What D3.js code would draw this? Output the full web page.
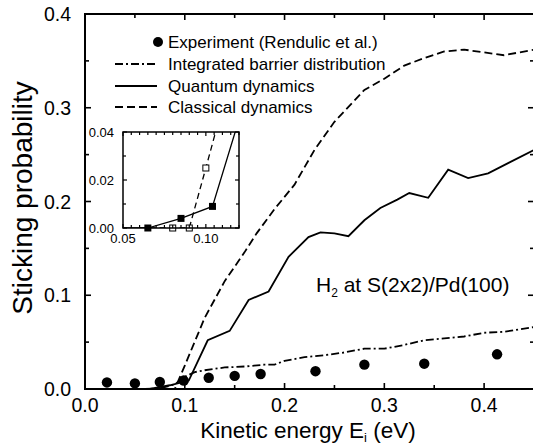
<!DOCTYPE html>
<html><head><meta charset="utf-8">
<script src="https://cdn.jsdelivr.net/npm/d3@7/dist/d3.min.js"></script>
<style>body{margin:0;background:#fff}svg{display:block;font-family:"Liberation Sans",Arial,sans-serif}</style>
</head><body><svg id="c" width="533" height="444"></svg>
<script>
// ---- data ----
const expX = [0.022,0.05,0.075,0.099,0.124,0.15,0.176,0.231,0.28,0.34,0.413];
const expY = [0.007,0.006,0.0075,0.009,0.012,0.014,0.016,0.019,0.026,0.027,0.037];
const intX = [0.06,0.07,0.08,0.09,0.1,0.11,0.12,0.14,0.16,0.18,0.19,0.2,0.22,0.24,0.26,0.28,0.3,0.32,0.34,0.36,0.38,0.4,0.42,0.45];
const intY = [0,0.0005,0.002,0.005,0.013,0.018,0.02,0.023,0.024,0.026,0.026,0.03,0.034,0.036,0.039,0.043,0.043,0.047,0.052,0.054,0.056,0.06,0.061,0.066];
const qdX = [0.045,0.065,0.085,0.104,0.123,0.145,0.164,0.184,0.204,0.224,0.236,0.25,0.264,0.28,0.296,0.313,0.325,0.344,0.364,0.384,0.404,0.426,0.45];
const qdY = [0,0,0.004,0.009,0.052,0.062,0.095,0.104,0.141,0.162,0.167,0.166,0.163,0.18,0.193,0.202,0.209,0.204,0.234,0.225,0.23,0.242,0.255];
const cdX = [0.06,0.08,0.09,0.1,0.12,0.14,0.16,0.172,0.19,0.21,0.23,0.25,0.28,0.3,0.32,0.34,0.36,0.38,0.40,0.42,0.45];
const cdY = [0,0,0.0,0.025,0.076,0.115,0.146,0.166,0.192,0.218,0.255,0.285,0.319,0.331,0.345,0.353,0.36,0.362,0.359,0.356,0.362];
// inset markers
const qdInsetX = [0.065,0.085,0.104];
const qdInsetY = [0,0.004,0.009];
const cdInsetX = [0.08,0.09,0.1];
const cdInsetY = [0,0,0.025];
const xTicks = [0,0.1,0.2,0.3,0.4];
const yTicks = [0,0.1,0.2,0.3,0.4];
const legendLabels = ["Experiment (Rendulic et al.)","Integrated barrier distribution","Quantum dynamics","Classical dynamics"];

const svg = d3.select("#c");
const L=85,R=534,T=14,B=389;
const x = d3.scaleLinear().domain([0,0.45]).range([L,R]);
const y = d3.scaleLinear().domain([0,0.4]).range([B,T]);
const clipId="mainclip";
svg.append("defs").append("clipPath").attr("id",clipId).append("rect").attr("x",L).attr("y",T).attr("width",R-L).attr("height",B-T);

const zip=(a,b)=>a.map((v,i)=>[v,b[i]]);
const line = d3.line().x(d=>x(d[0])).y(d=>y(d[1]));
const g = svg.append("g").attr("clip-path",`url(#${clipId})`);
g.append("path").attr("d",line(zip(intX,intY))).attr("fill","none").attr("stroke","#000").attr("stroke-width",1.8).attr("stroke-dasharray","8,3,2,3");
g.append("path").attr("d",line(zip(qdX,qdY))).attr("fill","none").attr("stroke","#000").attr("stroke-width",1.8);
g.append("path").attr("d",line(zip(cdX,cdY))).attr("fill","none").attr("stroke","#000").attr("stroke-width",1.8).attr("stroke-dasharray","8,4");
g.selectAll("circle.e").data(zip(expX,expY)).join("circle").attr("cx",d=>x(d[0])).attr("cy",d=>y(d[1])).attr("r",5.2).attr("fill","#000");

// axes
function axes(sel, xs, ys, xMaj, xMin, yMaj, yMin, lenMaj, lenMin, fs, xfmt, yfmt, sw, xdy, ydx){
  const [x0,x1]=xs.range(), [y0,y1]=ys.range();
  const a = sel.append("g");
  a.append("rect").attr("x",x0).attr("y",y1).attr("width",x1-x0).attr("height",y0-y1).attr("fill","none").attr("stroke","#000").attr("stroke-width",sw);
  const tk=(x1_,y1_,x2_,y2_)=>a.append("line").attr("x1",x1_).attr("y1",y1_).attr("x2",x2_).attr("y2",y2_).attr("stroke","#000").attr("stroke-width",sw*0.8);
  xMaj.forEach(v=>{tk(xs(v),y0,xs(v),y0-lenMaj);tk(xs(v),y1,xs(v),y1+lenMaj);});
  xMin.forEach(v=>{tk(xs(v),y0,xs(v),y0-lenMin);tk(xs(v),y1,xs(v),y1+lenMin);});
  yMaj.forEach(v=>{tk(x0,ys(v),x0+lenMaj,ys(v));tk(x1,ys(v),x1-lenMaj,ys(v));});
  yMin.forEach(v=>{tk(x0,ys(v),x0+lenMin,ys(v));tk(x1,ys(v),x1-lenMin,ys(v));});
  xMaj.forEach(v=>a.append("text").attr("x",xs(v)).attr("y",y0+xdy).attr("text-anchor","middle").attr("font-size",fs).text(xfmt(v)));
  yMaj.forEach(v=>a.append("text").attr("x",x0-ydx).attr("y",ys(v)+fs*0.36).attr("text-anchor","end").attr("font-size",fs).text(yfmt(v)));
}
const f1=d3.format(".1f"), f2=d3.format(".2f");
axes(svg,x,y,xTicks,[0.05,0.15,0.25,0.35,0.45],yTicks,[0.05,0.15,0.25,0.35],6,4,19.5,f1,f1,2,23,14);

// axis titles
svg.append("text").attr("transform","translate(32,198) rotate(-90)").attr("text-anchor","middle").attr("font-size",28).text("Sticking probability");
const xt = svg.append("text").attr("x",308).attr("y",438).attr("text-anchor","middle").attr("font-size",22.5);
xt.append("tspan").text("Kinetic energy E");
xt.append("tspan").attr("font-size",13).attr("dy",4).text("i");
xt.append("tspan").attr("dy",-4).text(" (eV)");

// legend
const ly=[42,64,86,107];
const lg=svg.append("g");
lg.append("circle").attr("cx",158).attr("cy",ly[0]).attr("r",5).attr("fill","#000");
const dashes=["8,3,2,3",null,"8,4"];
[1,2,3].forEach((k,i)=>{const p=lg.append("line").attr("x1",115).attr("x2",157).attr("y1",ly[k]).attr("y2",ly[k]).attr("stroke","#000").attr("stroke-width",1.8);if(dashes[i])p.attr("stroke-dasharray",dashes[i]);});
legendLabels.forEach((t,i)=>lg.append("text").attr("x",168).attr("y",ly[i]+6).attr("font-size",17).text(t));

// annotation
const an=svg.append("text").attr("x",316).attr("y",292).attr("font-size",21);
an.append("tspan").text("H");
an.append("tspan").attr("font-size",12).attr("dy",5).text("2");
an.append("tspan").attr("dy",-5).text(" at S(2x2)/Pd(100)");

// inset
const ix=d3.scaleLinear().domain([0.05,0.12]).range([123,239]);
const iy=d3.scaleLinear().domain([0,0.04]).range([228,132]);
svg.append("rect").attr("x",123).attr("y",132).attr("width",116).attr("height",96).attr("fill","#fff");
svg.append("defs").append("clipPath").attr("id","ic").append("rect").attr("x",123).attr("y",132).attr("width",116).attr("height",96);
const il=d3.line().x(d=>ix(d[0])).y(d=>iy(d[1]));
const ig=svg.append("g").attr("clip-path","url(#ic)");
ig.append("path").attr("d",il(zip(qdX,qdY))).attr("fill","none").attr("stroke","#000").attr("stroke-width",1.3);
ig.append("path").attr("d",il(zip(cdX,cdY))).attr("fill","none").attr("stroke","#000").attr("stroke-width",1.3).attr("stroke-dasharray","6,4");
svg.selectAll("rect.q").data(zip(qdInsetX,qdInsetY)).join("rect").attr("x",d=>ix(d[0])-3.5).attr("y",d=>iy(d[1])-3.5).attr("width",7).attr("height",7).attr("fill","#000");
svg.selectAll("rect.c").data(zip(cdInsetX,cdInsetY)).join("rect").attr("x",d=>ix(d[0])-3).attr("y",d=>iy(d[1])-3).attr("width",6).attr("height",6).attr("fill","#fff").attr("stroke","#000").attr("stroke-width",1);
const ixMin=d3.range(0.055,0.1201,0.005).filter(v=>Math.abs(v-0.1)>1e-6);
axes(svg,ix,iy,[0.05,0.1],ixMin,[0,0.02,0.04],[0.01,0.03],4,3,13,f2,f2,1.5,15,9);
</script></body></html>
